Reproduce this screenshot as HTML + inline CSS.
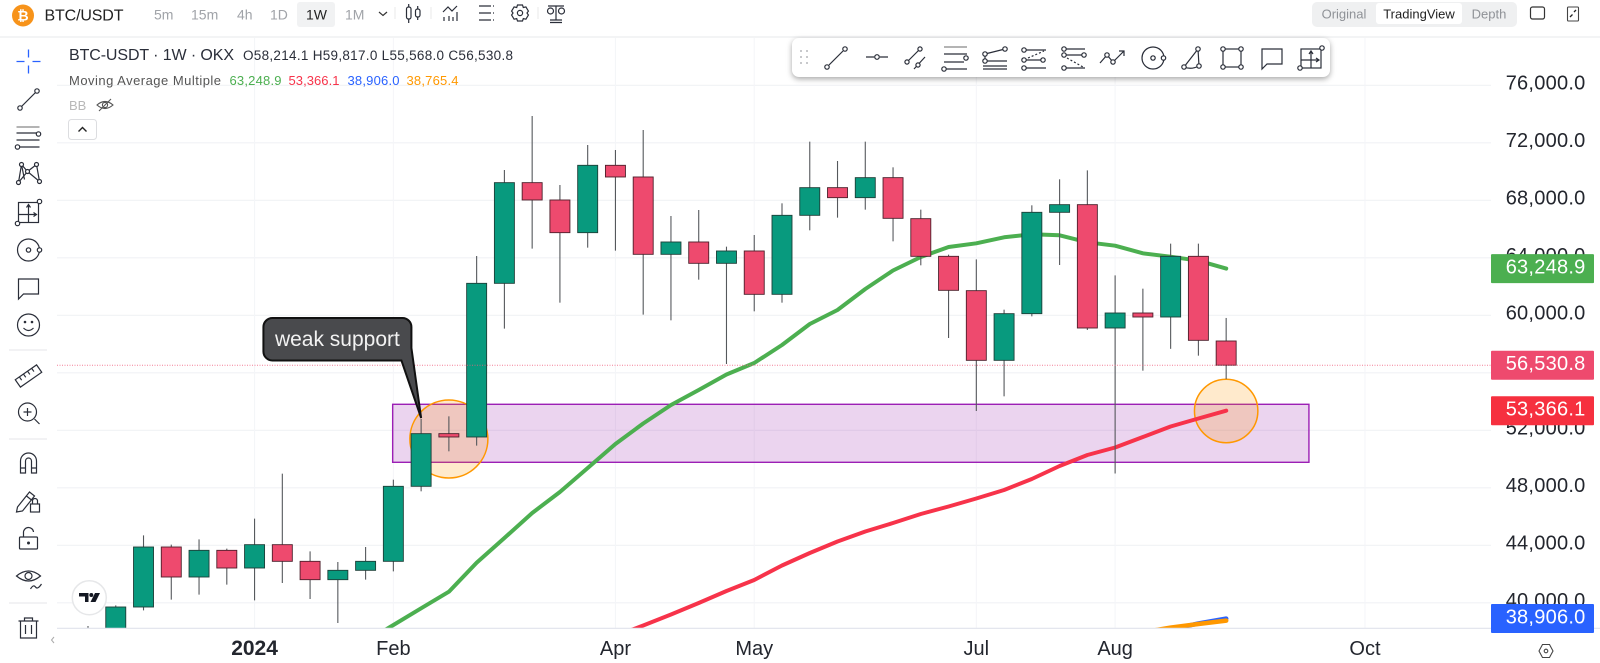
<!DOCTYPE html>
<html lang="en">
<head>
<meta charset="utf-8">
<title>BTC/USDT 1W chart</title>
<style>
html,body{margin:0;padding:0;background:#fff;width:1600px;height:663px;overflow:hidden}
svg{display:block;font-family:"Liberation Sans",sans-serif}
.ic{fill:none;stroke:#2a2e39;stroke-width:1.2}
.tab{font-size:14px;fill:#a0a3a8}
.lg{font-size:13px}
</style>
</head>
<body>
<svg id="root" width="1600" height="663" viewBox="0 0 1600 663" xmlns="http://www.w3.org/2000/svg">
  <defs>
    <clipPath id="plotClip"><rect x="57" y="38" width="1434" height="590.3"/></clipPath>
  </defs>
  <rect width="1600" height="663" fill="#fff"/>

  <g id="chart">
    <g id="grid"></g>
    <g clip-path="url(#plotClip)">
      <g id="drawings"></g>
      <g id="indicators"></g>
      <g id="candles"></g>
      <g id="priceLine"></g>
      <g id="callout"></g>
    </g>
    <line x1="57" y1="628.3" x2="1600" y2="628.3" stroke="#e0e3eb" stroke-width="1.2"/>
    <g id="yAxis"></g>
    <g id="xAxis"></g>
  </g>

  <!-- legend -->
  <g>
    <text x="69" y="60" font-size="16" fill="#2a2e39" textLength="165" lengthAdjust="spacing">BTC-USDT · 1W · OKX</text>
    <text x="243" y="60" font-size="13.5" fill="#2a2e39" textLength="270" lengthAdjust="spacing">O58,214.1  H59,817.0  L55,568.0  C56,530.8</text>
    <text class="lg" x="69" y="85" fill="#555" textLength="152" lengthAdjust="spacing">Moving Average Multiple</text>
    <text class="lg" x="229.5" y="85" fill="#4caf50" textLength="52" lengthAdjust="spacing">63,248.9</text>
    <text class="lg" x="288.5" y="85" fill="#f7334a" textLength="51" lengthAdjust="spacing">53,366.1</text>
    <text class="lg" x="347.5" y="85" fill="#2962ff" textLength="52" lengthAdjust="spacing">38,906.0</text>
    <text class="lg" x="406.5" y="85" fill="#ff9800" textLength="52" lengthAdjust="spacing">38,765.4</text>
    <text x="69" y="110" font-size="13" fill="#b8b8b8">BB</text>
    <g transform="translate(105,105)" fill="none" stroke="#555" stroke-width="1.1">
      <path d="M-8 0Q0-7 8 0Q0 7-8 0Z"/><circle r="2.6"/><line x1="-6" y1="6" x2="6" y2="-6"/>
    </g>
    <g>
      <rect x="68.5" y="119.5" width="28" height="20" rx="3" fill="#fff" stroke="#dcdde0"/>
      <path d="M78.5 131.5l4-4 4 4" fill="none" stroke="#222" stroke-width="1.4"/>
    </g>
  </g>

  <!-- header -->
  <g>
    <rect x="0" y="36" width="1600" height="2" fill="#f3f4f5"/>
    <g>
      <circle cx="23" cy="15.5" r="11" fill="#f7931a"/>
      <text x="23" y="20.5" font-size="14" font-weight="bold" fill="#fff" text-anchor="middle">₿</text>
    </g>
    <text x="44.5" y="20.5" font-size="16" fill="#222" textLength="79" lengthAdjust="spacing">BTC/USDT</text>
    <text class="tab" x="154" y="19.5">5m</text>
    <text class="tab" x="191" y="19.5">15m</text>
    <text class="tab" x="237" y="19.5">4h</text>
    <text class="tab" x="270" y="19.5">1D</text>
    <rect x="297" y="2" width="38" height="25" rx="3" fill="#f1f2f3"/>
    <text class="tab" x="306" y="19.5" style="fill:#222">1W</text>
    <text class="tab" x="345" y="19.5">1M</text>
    <path d="M379 12l4 3.5 4-3.5" fill="none" stroke="#333" stroke-width="1.2"/>
    <line x1="395" y1="7" x2="395" y2="19" stroke="#e8e9ea"/>
    <g class="ic" transform="translate(413.500,13)">
      <rect x="-7" y="-6" width="4.5" height="12" rx="2"/><path d="M-4.800-9v3M-4.800 6v4"/>
      <rect x="2" y="-4" width="4.5" height="8" rx="2"/><path d="M4.200-7v3M4.200 4v3"/>
    </g>
    <line x1="431" y1="7" x2="431" y2="19" stroke="#e8e9ea"/>
    <g class="ic" transform="translate(450,13)">
      <path d="M-7-1L-2-6 2-2 7-7"/><path d="M-6 8v-4M-1 8v-5M3 8v-4M7 8v-9"/>
    </g>
    <g class="ic" transform="translate(486,13)">
      <path d="M-7-7H5M-7 0H5M-7 7H5M7-7h1M7 0h1M7 7h1"/>
    </g>
    <g class="ic" transform="translate(520,13)">
      <path d="M-2.500-8h5l.8 2.500 2.600-.6 2.500 4.200L7-0l1.400 2-2.500 4.200-2.600-.6L2.500 8h-5l-.8-2.400-2.600.6L-8.400 2-7 0-8.400-1.900-5.900-6.100l2.600.6Z"/><circle r="2.600"/>
    </g>
    <line x1="538" y1="7" x2="538" y2="19" stroke="#e8e9ea"/>
    <g class="ic" transform="translate(556,13)">
      <circle cx="-5.500" cy="-2" r="3"/><circle cx="5.500" cy="-2" r="3"/><path d="M-8-7H8M0-7V7M-6 7H6M-6 9.500H6"/>
    </g>

    <g>
      <rect x="1312" y="2" width="205" height="25" rx="5" fill="#eff0f1"/>
      <rect x="1376" y="3" width="86" height="21" rx="3" fill="#fff"/>
      <text x="1344" y="18.500" font-size="13" fill="#8f9297" text-anchor="middle">Original</text>
      <text x="1419" y="18.500" font-size="13" fill="#222" text-anchor="middle">TradingView</text>
      <text x="1489" y="18.500" font-size="13" fill="#8f9297" text-anchor="middle">Depth</text>
    </g>
    <rect x="1530.500" y="7" width="14" height="12" rx="2" fill="none" stroke="#333" stroke-width="1.200"/>
    <g>
      <rect x="1567.500" y="7" width="11" height="14" rx="1" fill="none" stroke="#444" stroke-width="1.100"/>
      <path d="M1570 17l2.500-2.500M1576 10l-2 2" stroke="#222" stroke-width="1.300"/>
    </g>
  </g>

  <!-- floating drawing toolbar -->
  <g>
    <rect x="792" y="38" width="538" height="39" rx="7" fill="#fff" style="filter:drop-shadow(0 2px 3px rgba(0,0,0,.35))"/>
    <g fill="#c8c9cc">
      <rect x="800" y="50" width="2" height="2"/><rect x="806" y="50" width="2" height="2"/>
      <rect x="800" y="56" width="2" height="2"/><rect x="806" y="56" width="2" height="2"/>
      <rect x="800" y="62" width="2" height="2"/><rect x="806" y="62" width="2" height="2"/>
    </g>
    <g class="ic" transform="translate(836,58)">
      <line x1="-7" y1="7" x2="7" y2="-7"/><circle cx="-9" cy="9" r="2.200" fill="#fff"/><circle cx="9" cy="-9" r="2.200" fill="#fff"/>
    </g>
    <g class="ic" transform="translate(877,57)">
      <path d="M-11 0H-3M3 0H11"/><circle r="2.300" fill="#fff"/>
    </g>
    <g class="ic" transform="translate(917,58)">
      <path d="M-9 3L2-8M-3 11L8-1"/><circle cx="-10" cy="4" r="2.100" fill="#fff"/><circle cx="3" cy="-9" r="2.100" fill="#fff"/><circle cx="1" cy="7" r="2.100" fill="#fff"/>
    </g>
    <g class="ic" transform="translate(956,58)">
      <path d="M-12-11H11" stroke="#888"/><path d="M-12-4H11M-12 4H8M-10 11H11"/><circle cx="10" cy="0" r="2.200" fill="#fff"/><circle cx="-12" cy="11" r="2.200" fill="#fff"/>
    </g>
    <g class="ic" transform="translate(995,58)">
      <path d="M-10-4L10-9M-10-3V3M-10 3H12M-12 8H12M-12 11H12"/><circle cx="-10" cy="-4" r="2.200" fill="#fff"/><circle cx="10" cy="-9" r="2.200" fill="#fff"/><circle cx="-10" cy="3" r="2.200" fill="#fff"/>
    </g>
    <g class="ic" transform="translate(1034,58)">
      <path d="M-9-8H12M-9 10H12M-9 2H8"/><path d="M-6 0L10-7" stroke-dasharray="2 2"/><circle cx="-10" cy="-8" r="2.200" fill="#fff"/><circle cx="-10" cy="2" r="2.200" fill="#fff"/><circle cx="9" cy="2" r="2.200" fill="#fff"/><circle cx="-10" cy="10" r="2.200" fill="#fff"/>
    </g>
    <g class="ic" transform="translate(1074,58)">
      <path d="M-9-9H11M-9-3H9M-9 10H11"/><path d="M-7 0L9 9" stroke-dasharray="2 2"/><circle cx="-10" cy="-9" r="2.200" fill="#fff"/><circle cx="-10" cy="-3" r="2.200" fill="#fff"/><circle cx="10" cy="-3" r="2.200" fill="#fff"/><circle cx="-10" cy="10" r="2.200" fill="#fff"/>
    </g>
    <g class="ic" transform="translate(1113,58)">
      <path d="M-13 5L-6-3 0 4 11-7M6-7H11V-2"/><circle cx="-6" cy="-3" r="2.200" fill="#fff"/><circle cx="0" cy="4" r="2.200" fill="#fff"/>
    </g>
    <g class="ic" transform="translate(1153,58)">
      <circle r="11"/><circle cx="0" cy="0" r="2.200"/><circle cx="10.500" cy="0" r="2.200" fill="#fff"/>
    </g>
    <g class="ic" transform="translate(1193,58)">
      <path d="M-9 9L5-9 6 8Q-2 12-9 9Z"/><circle cx="-9" cy="9" r="2.200" fill="#fff"/><circle cx="5" cy="-9" r="2.200" fill="#fff"/><circle cx="6" cy="8" r="2.200" fill="#fff"/>
    </g>
    <g class="ic" transform="translate(1232,58)">
      <rect x="-9" y="-9" width="18" height="18"/><circle cx="-9" cy="-9" r="2.200" fill="#fff"/><circle cx="9" cy="-9" r="2.200" fill="#fff"/><circle cx="-9" cy="9" r="2.200" fill="#fff"/><circle cx="9" cy="9" r="2.200" fill="#fff"/>
    </g>
    <g class="ic" transform="translate(1272,58)">
      <path d="M-10-9H10V6H-5L-10 11Z"/>
    </g>
    <g class="ic" transform="translate(1311,58)">
      <rect x="-10" y="-9" width="20" height="19"/><path d="M0-6V10M-10 2H7M-2-4L0-7 2-4M5 0L8 2 5 4"/><circle cx="11" cy="-10" r="2.200" fill="#fff"/><circle cx="-11" cy="10" r="2.200" fill="#fff"/>
    </g>
  </g>

  <!-- left toolbar -->
  <g>
    <g fill="none" stroke="#2962ff" stroke-width="1.300" transform="translate(28.500,61.500)">
      <path d="M-12 0H-4M4 0H12M0-12V-4M0 4V12"/>
    </g>
    <g class="ic" transform="translate(28.500,99.500)">
      <line x1="-7" y1="7" x2="7" y2="-7"/><circle cx="-8.500" cy="8.500" r="2.200" fill="#fff"/><circle cx="8.500" cy="-8.500" r="2.200" fill="#fff"/>
    </g>
    <g class="ic" transform="translate(28.500,137)">
      <path d="M-12-10H11" stroke="#888"/><path d="M-12-4H8M-12 3H11M-9 10H11"/><circle cx="10" cy="-3" r="2.200" fill="#fff"/><circle cx="-11" cy="10" r="2.200" fill="#fff"/>
    </g>
    <g class="ic" transform="translate(28.500,173.500)">
      <path d="M-10 9L-7-9-1-2 8-9 11 8-1-2-10 9M-7-9L-4 6"/><circle cx="-10" cy="9" r="2" fill="#fff"/><circle cx="-7" cy="-9" r="2" fill="#fff"/><circle cx="8" cy="-9" r="2" fill="#fff"/><circle cx="11" cy="8" r="2" fill="#fff"/><circle cx="-1" cy="-2" r="2" fill="#fff"/>
    </g>
    <g class="ic" transform="translate(28.500,212.500)">
      <rect x="-10" y="-10" width="20" height="20"/><path d="M0-7V10M-10 2H7M-2-5L0-8 2-5M5 0L8 2 5 4"/><circle cx="11" cy="-11" r="2.200" fill="#fff"/><circle cx="-11" cy="11" r="2.200" fill="#fff"/>
    </g>
    <g class="ic" transform="translate(28.500,250)">
      <circle r="11"/><circle r="2.200"/><circle cx="11" r="2.200" fill="#fff"/>
    </g>
    <g class="ic" transform="translate(28.500,288)">
      <path d="M-10-9H10V6H-5L-10 11Z"/>
    </g>
    <g class="ic" transform="translate(28.500,325)">
      <circle r="11"/><path d="M-5 3Q0 8 5 3"/><circle cx="-3.500" cy="-3" r=".7" fill="#222"/><circle cx="3.500" cy="-3" r=".7" fill="#222"/>
    </g>
    <line x1="9" y1="350" x2="47" y2="350" stroke="#e5e6e8"/>
    <g class="ic" transform="translate(28.500,376) rotate(-35)">
      <rect x="-13" y="-4.500" width="26" height="9"/><path d="M-8-4.500v4M-3-4.500v4M2-4.500v4M7-4.500v4"/>
    </g>
    <g class="ic" transform="translate(28.500,413)">
      <circle cx="-1" cy="-1" r="9"/><path d="M-1-5V3M-5-1H3M6 6L11 11"/>
    </g>
    <line x1="9" y1="439" x2="47" y2="439" stroke="#e5e6e8"/>
    <g class="ic" transform="translate(28.500,463)">
      <path d="M-8 10V-2A8 8 0 0 1 8-2V10H3V-2A3 3 0 0 0-3-2V10ZM-8 5H-3M3 5H8"/>
    </g>
    <g class="ic" transform="translate(28.500,501)">
      <path d="M-11 6L1-9 6-5-6 10-12 11ZM-2-5L3-1"/><rect x="2" y="3" width="9" height="8"/><path d="M4 3V0A2.500 2.500 0 0 1 9 0V3"/>
    </g>
    <g class="ic" transform="translate(28.500,539)">
      <rect x="-9" y="-2" width="18" height="12" rx="1"/><path d="M-5-2V-6A5 5 0 0 1 5-7"/><circle cy="4" r=".9" fill="#222"/>
    </g>
    <g class="ic" transform="translate(28.500,579)">
      <path d="M-12-3Q0-13 12-3Q0 7-12-3Z"/><circle cy="-3" r="3.500"/><path d="M2 10Q5 5 7 8T13 5"/>
    </g>
    <line x1="9" y1="603" x2="47" y2="603" stroke="#e5e6e8"/>
    <g class="ic" transform="translate(28.500,628)">
      <path d="M-10-7H10M-4-7V-10H4V-7M-8-7V10H8V-7M-3-3V6M3-3V6"/>
    </g>
  </g>
  <path d="M54 637l-2.500 3 2.500 3" fill="none" stroke="#aaa"/>

  <g>
    <circle cx="89.300" cy="597.700" r="17" fill="#fff" stroke="#e6e7e9" stroke-width="1.500"/>
    <path d="M79 593H88.500V602H85V596.500H79Z" fill="#131722"/>
    <circle cx="91.300" cy="595" r="2" fill="#131722"/>
    <path d="M95 593H100L95.500 602H90.500Z" fill="#131722"/>
  </g>
  <g fill="none" stroke="#444" stroke-width="1.100" transform="translate(1546,651)">
    <path d="M-7 0L-3.500-6.500H3.500L7 0 3.500 6.500H-3.500Z"/><circle r="1.800"/>
  </g>

<script>
// ---- chart data ----
const opens  = [37000,37700,39710,43884,41797,43652,42423,44046,42887,41611,42261,42887,48105,51769,51537,62226,69230,68024,65751,70436,69624,64244,65102,63618,64476,61461,66957,68882,68186,69578,66725,64105,61716,56869,60116,67166,67699,59119,60162,59884,64105,58214.1];
const highs  = [38390,39826,44696,44046,44417,43768,45855,48986,43583,42840,43884,48568,52800,52974,64128,70111,73868,69067,71850,71502,72894,66911,67328,64777,65589,67792,72082,70737,72082,70296,67351,64221,63896,60394,67653,69462,70088,62783,61855,64987,64987,59817];
const lows   = [36500,37300,39478,40220,40568,41264,40174,41380,40266,38597,41611,42191,47757,50540,50934,59072,64638,60881,64708,64499,60046,59652,62481,56614,60278,60881,65913,66795,67351,65148,63479,58423,53344,54365,59930,63502,58980,49000,56150,57669,57194,55568];
const closes = [37500,39710,43884,41797,43652,42423,44046,42887,41611,42261,42887,48105,51769,51537,62226,69230,68024,65751,70436,69624,64244,65102,63618,64476,61461,66957,68882,68186,69578,66748,64105,61739,56869,60116,67166,67699,59119,60162,59884,64105,58261,56530.8];

// moving averages: first candle index + values
const maGreenStart = 10;
const maGreen = [37294,38458,39620,40774,42792,44510,46249,47710,49380,51049,52475,53762,54806,55884,56684,57936,59397,60371,61832,63119,64058,64753,65010,65426,65635,65565,65078,64842,64313,64077,63798,63248.9];
const maRedStart = 19;
const maRed = [37692,38423,39188,39988,40823,41588,42597,43467,44266,44962,45553,46180,46701,47258,47849,48614,49519,50284,50806,51536,52266,52823,53366.1];
const maBlueStart = 38;
const maBlue = [37700,38150,38560,38906];
const maOrangeStart = 38;
const maOrange = [37950,38280,38530,38765.4];

const priceTicks = [76000,72000,68000,64000,60000,56000,52000,48000,44000,40000];
const timeLabels = ["2024","Feb","Apr","May","Jul","Aug","Oct"];
const timeIndexes = [6,11,19,24,32,37,46];
const lastPrice = 56530.8;
const zonePrices = [53811,49776];
const zoneIndexes = [11,44];

// ---- axis functions ----
function xOf(i){ return 88 + 27.76*i; }
function yOf(p){ return 315.33 - (p-60000)*0.014375; }
function fmt(v){ return v.toFixed(1).replace(/\B(?=(\d{3})+(?!\d))/,','); }

const NS = "http://www.w3.org/2000/svg";
function mk(parent,tag,attrs,txt){
  const el = document.createElementNS(NS,tag);
  for(const k in attrs) el.setAttribute(k,attrs[k]);
  if(txt!==undefined) el.textContent = txt;
  parent.appendChild(el);
  return el;
}
const grid = document.getElementById('grid');
const yAxis = document.getElementById('yAxis');
const xAxis = document.getElementById('xAxis');
const drawings = document.getElementById('drawings');
const indicators = document.getElementById('indicators');
const candles = document.getElementById('candles');
const priceLine = document.getElementById('priceLine');
const callout = document.getElementById('callout');

priceTicks.forEach(function(p){
  const g = mk(grid,'line',{x1:57,x2:1491,y1:yOf(p),y2:yOf(p),stroke:'#f1f2f5','stroke-width':1.2});
  
  
  const t = mk(yAxis,'text',{x:1505.7,y:yOf(p)+4,'font-size':20,fill:'#23262e','letter-spacing':'0.25'},fmt(p));
  
  
});
timeLabels.forEach(function(lab,k){
  const x = xOf(timeIndexes[k]);
  const g = mk(grid,'line',{x1:x,x2:x,y1:38,y2:628,stroke:'#f4f5f8','stroke-width':1});
  
  
  const t = mk(xAxis,'text',{x:x,y:655,'font-size':lab==='2024'?21:20,fill:'#23262e','text-anchor':'middle','font-weight':lab==='2024'?'bold':'normal'},lab);
  
  
});

// drawings
const zx1 = xOf(zoneIndexes[0]), zx2 = xOf(zoneIndexes[1]);
const zone = mk(drawings,'rect',{x:zx1-0.7,y:yOf(zonePrices[0]),width:zx2-zx1+0.2,height:yOf(zonePrices[1])-yOf(zonePrices[0]),fill:'#9c27b0','fill-opacity':0.2,stroke:'#9c1fb5','stroke-width':1.4});


const circleA = mk(drawings,'circle',{cx:xOf(13),cy:yOf(51397),r:39,fill:'#ff9800','fill-opacity':0.2,stroke:'#ff9800','stroke-width':1.5});


const circleB = mk(drawings,'circle',{cx:xOf(41),cy:yOf(53345),r:31.7,fill:'#ff9800','fill-opacity':0.2,stroke:'#ff9800','stroke-width':1.5});



// moving averages
function poly(values,start){
  return values.map(function(v,i){ return xOf(start+i).toFixed(1)+','+yOf(v).toFixed(1); }).join(' ');
}
const lineBlue = mk(indicators,'polyline',{points:poly(maBlue,maBlueStart),fill:'none',stroke:'#2962ff','stroke-width':4.5,'stroke-linecap':'round','stroke-linejoin':'round'});


const lineOrange = mk(indicators,'polyline',{points:poly(maOrange,maOrangeStart),fill:'none',stroke:'#ff9800','stroke-width':4.5,'stroke-linecap':'round','stroke-linejoin':'round'});


const lineRed = mk(indicators,'polyline',{points:poly(maRed,maRedStart),fill:'none',stroke:'#f7334a','stroke-width':4,'stroke-linecap':'round','stroke-linejoin':'round'});


const lineGreen = mk(indicators,'polyline',{points:poly(maGreen,maGreenStart),fill:'none',stroke:'#4caf50','stroke-width':4,'stroke-linecap':'round','stroke-linejoin':'round'});



// candles
closes.forEach(function(c,i){
  const o = opens[i], up = c>=o, x = xOf(i);
  const top = yOf(Math.max(o,c)), bot = yOf(Math.min(o,c));
  const w = mk(candles,'line',{x1:x,x2:x,y1:yOf(highs[i]),y2:yOf(lows[i]),stroke:'#55585c','stroke-width':1.1});
  
  
  const b = mk(candles,'rect',{x:x-10,y:top,width:20,height:Math.max(bot-top,1),fill:up?'#089a7e':'#ee4a6e',stroke:up?'#1d3f38':'#4d1f2b','stroke-width':0.9});
  
  
});

// last price line
const pl = mk(priceLine,'line',{x1:57,x2:1491,y1:yOf(lastPrice),y2:yOf(lastPrice),stroke:'#ef5d7d','stroke-width':1,'stroke-dasharray':'1 1.5','stroke-opacity':0.8});



// callout bubble anchored on its tip
const tipX = xOf(12), tipY = yOf(52859);
const cx0 = tipX-157.7, cy0 = tipY-100;
const bubble = mk(callout,'path',{d:'M'+(cx0+9)+' '+cy0+'H'+(cx0+139)+'a9 9 0 0 1 9 9V'+(cy0+30)+'L'+tipX+' '+tipY+'L'+(cx0+138)+' '+(cy0+42.500)+'H'+(cx0+9)+'a9 9 0 0 1-9-9V'+(cy0+9)+'a9 9 0 0 1 9-9Z',fill:'#494a4d',stroke:'#111','stroke-width':2});


const bubbleText = mk(callout,'text',{x:cx0+74,y:cy0+28,'font-size':21,fill:'#f2f2f2','text-anchor':'middle'},'weak support');



// price labels for the last values
function priceTag(value,color,name){
  const y = yOf(value);
  const r = mk(yAxis,'rect',{x:1491,y:y-14.500,width:103,height:29,rx:1,fill:color});
  
  
  const t = mk(yAxis,'text',{x:1505.7,y:y+5,'font-size':20,fill:'#fff','letter-spacing':'0.25'},fmt(value));
  
  
}
priceTag(maGreen[maGreen.length-1],'#4caf50','ma-green-price');
priceTag(lastPrice,'#ee4a6e','last-price');
priceTag(maRed[maRed.length-1],'#f6303f','ma-red-price');
priceTag(maBlue[maBlue.length-1],'#2962ff','ma-blue-price');
</script>
</svg>
</body>
</html>
